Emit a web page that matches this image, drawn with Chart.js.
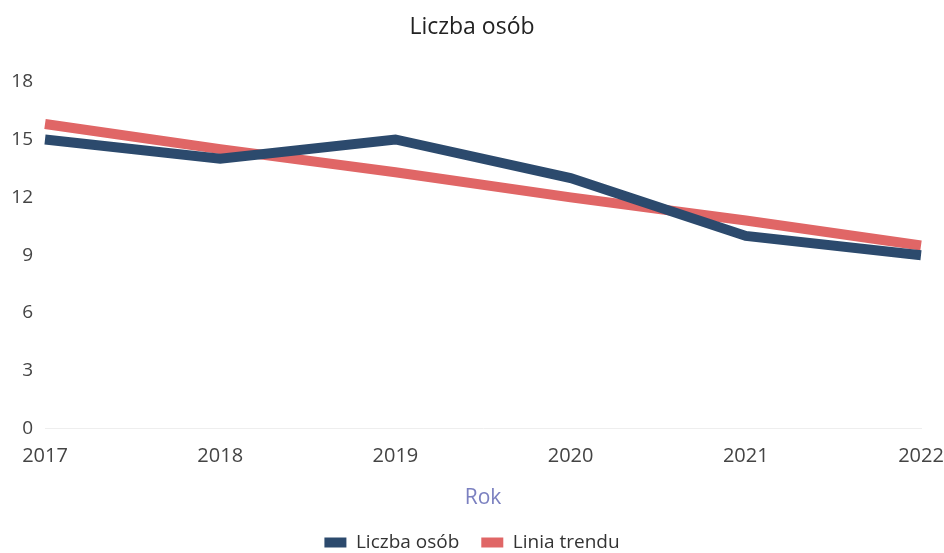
<!DOCTYPE html>
<html>
<head>
<meta charset="utf-8">
<script src="https://cdn.jsdelivr.net/npm/chart.js@4"></script>
<style>
  html, body { margin: 0; padding: 0; background: #fff; }
  #wrap { width: 944px; height: 553px; }
</style>
</head>
<body>
<div id="wrap"><canvas id="chart-line" width="944" height="553"></canvas></div>
<script>
// dane
const years = ['2017', '2018', '2019', '2020', '2021', '2022'];
const liczbaOsob = [15, 14, 15, 13, 10, 9];
const liniaTrendu = [15.8, 14.5, 13.3, 12.0, 10.8, 9.5];
const yTicks = [0, 3, 6, 9, 12, 15, 18];

const ctx = document.getElementById('chart-line').getContext('2d');
new Chart(ctx, {
  type: 'line',
  data: {
    labels: years,
    datasets: [
      {
        label: 'Liczba osób',
        data: liczbaOsob,
        borderColor: '#2c4a6d',
        backgroundColor: '#2c4a6d',
        borderWidth: 10,
        pointRadius: 0,
        tension: 0,
      },
      {
        label: 'Linia trendu',
        data: liniaTrendu,
        borderColor: '#e06666',
        backgroundColor: '#e06666',
        borderWidth: 10,
        pointRadius: 0,
        tension: 0,
      },
    ],
  },
  options: {
    responsive: false,
    animation: false,
    layout: { padding: { left: 0, right: 0, top: 8, bottom: -9 } },
    scales: {
      x: {
        offset: false,
        afterFit: (axis) => { axis.paddingLeft = 0; axis.paddingRight = 23; },
        grid: { display: false, drawTicks: false },
        border: { display: true, color: '#eeeeee' },
        ticks: { color: '#444', font: { family: 'Open Sans', size: 20 }, padding: 15, maxRotation: 0 },
        title: { display: true, text: 'Rok', color: '#7b80c0', font: { family: 'Open Sans', size: 21 }, padding: { top: 3, bottom: 0 } },
      },
      y: {
        min: 0,
        max: 18,
        afterBuildTicks: (axis) => { axis.ticks = yTicks.map(v => ({ value: v })); },
        afterFit: (axis) => { axis.width = 45; },
        grid: { display: false, drawTicks: false },
        border: { display: false },
        ticks: { color: '#444', font: { family: 'Open Sans', size: 19 }, padding: 12 },
      },
    },
    plugins: {
      title: {
        display: true,
        text: 'Liczba osób',
        color: '#222',
        font: { family: 'Open Sans', size: 23, weight: 'normal' },
        padding: { top: 6, bottom: 40 },
      },
      legend: {
        position: 'bottom',
        labels: {
          color: '#333',
          font: { family: 'Open Sans', size: 19 },
          boxWidth: 22,
          boxHeight: 10,
          padding: 22,
          generateLabels: (chart) => Chart.defaults.plugins.legend.labels.generateLabels(chart).map(l => Object.assign(l, { lineWidth: 0 })),
        },
      },
      tooltip: { enabled: false },
    },
  },
});
</script>
</body>
</html>
